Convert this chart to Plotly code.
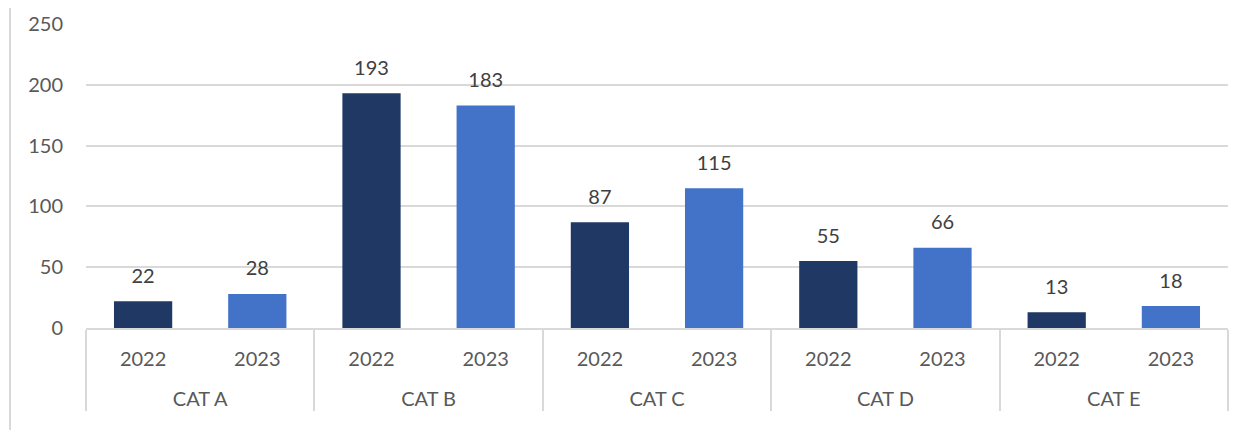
import plotly.graph_objects as go

categories = ["CAT A", "CAT B", "CAT C", "CAT D", "CAT E"]
years = ["2022", "2023"]
values_2022 = [22, 193, 87, 55, 13]
values_2023 = [28, 183, 115, 66, 18]
y_ticks = [0, 50, 100, 150, 200, 250]

FONT = "Lato, 'Liberation Sans', sans-serif"
TXT = "#595959"
LBL = "#404040"
GRID = "#D9D9D9"

cat_labels = ["<br>" + c for c in categories]

fig = go.Figure()
for yr, vals, col in [(years[0], values_2022, "#203864"), (years[1], values_2023, "#4273C9")]:
    xs = [cat_labels, [yr] * len(categories)]
    fig.add_trace(go.Bar(
        x=xs, y=vals, name=yr,
        marker=dict(color=col, line=dict(width=0)),
        width=0.51,
    ))
    fig.add_trace(go.Scatter(
        x=xs, y=vals, mode="markers+text",
        marker=dict(size=20, opacity=0),
        text=[str(v) for v in vals], textposition="top center",
        textfont=dict(size=20, color=LBL, family=FONT),
        cliponaxis=False, hoverinfo="skip", showlegend=False,
    ))

# page body has an 8px margin, so the figure is 8px smaller on each side
W, H = 1236, 422
L, T, B = 78, 16, 102
PW = 1142
fig.update_layout(
    width=W, height=H,
    margin=dict(l=L, r=W - L - PW, t=T, b=B, autoexpand=False),
    paper_bgcolor="white", plot_bgcolor="white",
    barmode="overlay",
    showlegend=False,
    font=dict(family=FONT, size=20, color=TXT),
    shapes=[dict(type="line", xref="paper", yref="paper",
                 x0=(2 - L) / PW, x1=(2 - L) / PW,
                 y0=-B / 304, y1=1 + T / 304,
                 line=dict(color=GRID, width=2))],
)
fig.update_yaxes(
    range=[0, 250], tickvals=y_ticks, showgrid=True, gridcolor=GRID, gridwidth=1.5,
    zeroline=False, showline=False, ticks="", ticklabelstandoff=22, automargin=False,
    tickfont=dict(size=20, color=TXT, family=FONT),
)
fig.update_xaxes(
    type="multicategory", range=[-0.5, 9.5], showline=True, linecolor=GRID, linewidth=2,
    showdividers=True, dividercolor=GRID, dividerwidth=2, automargin=False,
    ticks="", ticklabelstandoff=12, tickfont=dict(size=20, color=TXT, family=FONT),
)

fig.write_html("out.html")
